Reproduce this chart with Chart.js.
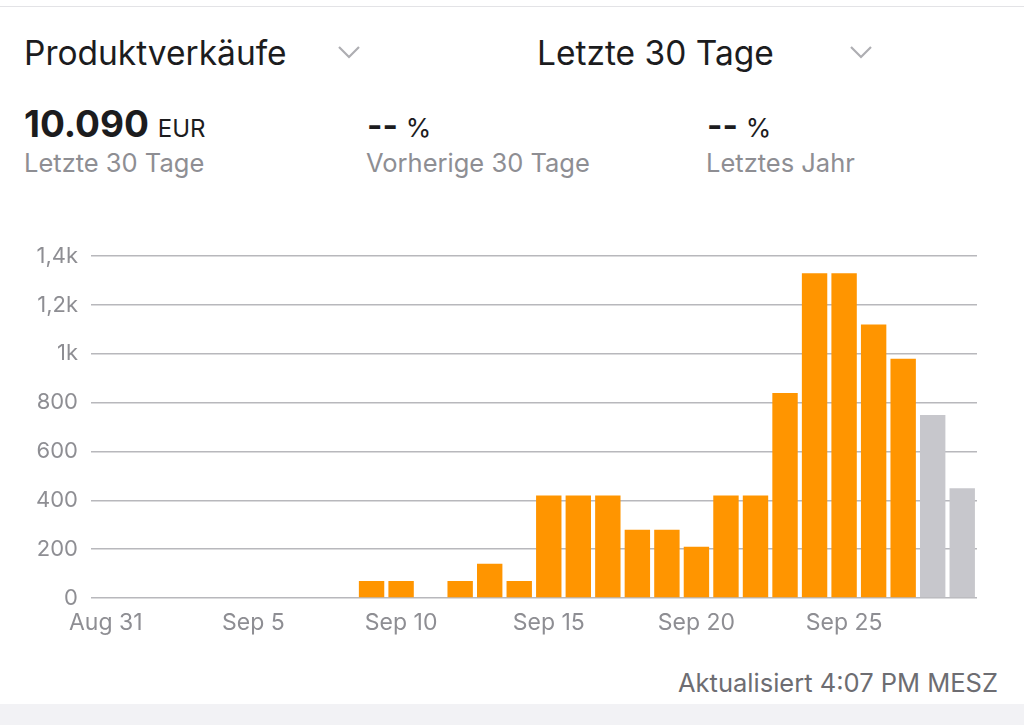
<!DOCTYPE html>
<html>
<head>
<meta charset="utf-8">
<script src="https://cdn.jsdelivr.net/npm/chart.js"></script>
<style>
  body { margin:0; width:1024px; height:725px; background:#fff; position:relative; overflow:hidden;
         font-family: Inter, "Noto Sans", sans-serif; }
  .topline { position:absolute; left:0; top:6px; width:1024px; height:1px; background:#e3e3e6; }
  .bottomband { position:absolute; left:0; top:704px; width:1024px; height:21px; background:#f2f2f5; }
  .t { position:absolute; white-space:nowrap; line-height:1; }
  .head { font-size:33.5px; color:#1c1c1e; top:37px; }
  .big { font-size:37px; font-weight:700; color:#1c1c1e; top:105px; left:24px; }
  .big span { font-size:24px; font-weight:400; }
  .dash { font-size:33px; font-weight:700; color:#1c1c1e; top:109px; }
  .dash span { font-weight:400; font-size:26px; }
  .sub { font-size:25.5px; color:#8e8e93; top:150px; }
  .foot { font-size:25.5px; color:#6d6d72; top:670px; right:26px; }
  svg.chev { position:absolute; }
  #wrap { position:absolute; left:0; top:230px; width:1024px; height:420px; }
</style>
</head>
<body>
<div class="topline"></div>
<div class="t head" style="left:24px">Produktverkäufe</div>
<svg class="chev" style="left:337px;top:44px" width="24" height="16"><polyline points="2,3 12,13 22,3" fill="none" stroke="#aeaeb2" stroke-width="2.2"/></svg>
<div class="t head" style="left:537px">Letzte 30 Tage</div>
<svg class="chev" style="left:849px;top:44px" width="24" height="16"><polyline points="2,3 12,13 22,3" fill="none" stroke="#aeaeb2" stroke-width="2.2"/></svg>

<div class="t big">10.090 <span>EUR</span></div>
<div class="t sub" style="left:24px">Letzte 30 Tage</div>
<div class="t dash" style="left:367px">-- <span>%</span></div>
<div class="t sub" style="left:366px">Vorherige 30 Tage</div>
<div class="t dash" style="left:707px">-- <span>%</span></div>
<div class="t sub" style="left:706px">Letztes Jahr</div>

<div id="wrap"><canvas id="sales"></canvas></div>

<div class="t foot">Aktualisiert 4:07 PM MESZ</div>
<div class="bottomband"></div>

<script>
// Tage Aug 31 - Sep 29
var tage = ['Aug 31','Sep 1','Sep 2','Sep 3','Sep 4','Sep 5','Sep 6','Sep 7','Sep 8','Sep 9',
            'Sep 10','Sep 11','Sep 12','Sep 13','Sep 14','Sep 15','Sep 16','Sep 17','Sep 18','Sep 19',
            'Sep 20','Sep 21','Sep 22','Sep 23','Sep 24','Sep 25','Sep 26','Sep 27','Sep 28','Sep 29'];
// Verkaeufe in EUR (abgeschlossen)
var verkaeufe = [0,0,0,0,0,0,0,0,0,70,
                 70,0,70,140,70,420,420,420,280,280,
                 210,420,420,840,1330,1330,1120,980,null,null];
// noch nicht abgeschlossene Tage (grau)
var vorlaeufig = [null,null,null,null,null,null,null,null,null,null,
                  null,null,null,null,null,null,null,null,null,null,
                  null,null,null,null,null,null,null,null,750,450];
var yTicks = [0,200,400,600,800,1000,1200,1400];

function kFormat(v){
  if (v < 1000) return String(v);
  return String(v/1000).replace('.', ',') + 'k';
}

new Chart(document.getElementById('sales').getContext('2d'), {
  type: 'bar',
  data: {
    labels: tage,
    datasets: [{
        data: verkaeufe,
        backgroundColor: '#ff9500',
        grouped: false,
        barPercentage: 0.86,
        categoryPercentage: 1
      }, {
        data: vorlaeufig,
        backgroundColor: '#c7c7cc',
        grouped: false,
        barPercentage: 0.86,
        categoryPercentage: 1
      }]
  },
  options: {
    responsive: true,
    maintainAspectRatio: false,
    animation: false,
    layout: { padding: { top: 6, right: 47, left: 0, bottom: 0 } },
    plugins: { legend: { display: false }, tooltip: { enabled: false } },
    scales: {
      x: {
        grid: { display: false, drawTicks: false },
        border: { display: false },
        afterFit: function(s){ s.height = 52; },
        ticks: {
          autoSkip: false, maxRotation: 0, padding: 11,
          color: '#8e8e93',
          font: { family: 'Inter', size: 23 },
          callback: function(v, i){ return i % 5 === 0 ? tage[i] : null; }
        }
      },
      y: {
        min: 0, max: 1400,
        afterFit: function(s){ s.width = 91; },
        afterBuildTicks: function(s){ s.ticks = yTicks.map(function(v){ return {value: v}; }); },
        grid: { color: '#b8b8bc', lineWidth: 1.5, drawTicks: false },
        border: { display: false },
        ticks: {
          padding: 13,
          color: '#8e8e93',
          font: { family: 'Inter', size: 22 },
          callback: function(v){ return kFormat(v); }
        }
      }
    }
  }
});
</script>
</body>
</html>
